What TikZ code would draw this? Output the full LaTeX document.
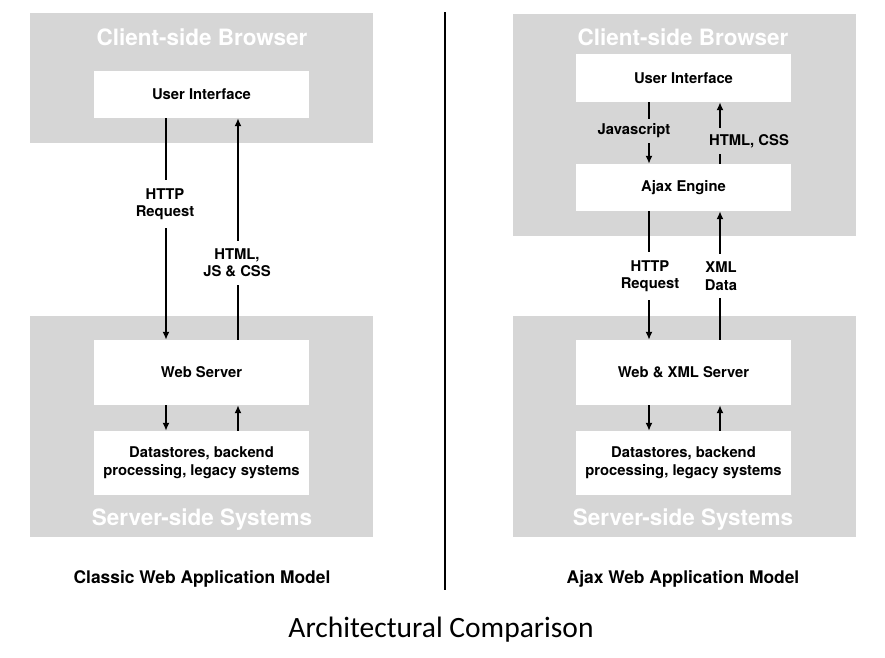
\documentclass[tikz,border=0pt]{standalone}
\usepackage{fontspec}
\setmainfont{TeX Gyre Heros}
\newfontfamily\captionfont{Carlito}
\usetikzlibrary{arrows.meta}
\definecolor{panel}{HTML}{D6D6D6}

\begin{document}
\begin{tikzpicture}[x=1pt, y=-1pt]
\useasboundingbox (0,0) rectangle (885,657);

% grey containers
\begin{scope}[every node/.style={fill=panel, inner sep=0pt, minimum width=343pt}]
    \node[minimum height=130pt] (clientA) at (201.5,78) {};
    \node[minimum height=221pt] (serverA) at (201.5,426.5) {};
    \node[minimum height=222pt] (clientB) at (684.5,125) {};
    \node[minimum height=221pt] (serverB) at (684.5,426.5) {};
\end{scope}

\begin{scope}[every node/.style={text=white, font=\bfseries\fontsize{22.5}{26}\selectfont}]
    \node (clientAtitle) at (202,37) {Client-side Browser};
    \node (clientBtitle) at (683,37) {Client-side Browser};
    \node (serverAtitle) at (202,520) {Server-side Systems};
    \node (serverBtitle) at (683,520) {Server-side Systems};
\end{scope}

% white boxes
\begin{scope}[every node/.style={fill=white, minimum width=215pt, align=center,
              font=\bfseries\fontsize{14.8}{18}\selectfont}]
    \node[minimum height=47pt] (uiA) at (201.5,94.5) {User Interface};
    \node[minimum height=65pt] (webA) at (201.5,372.5) {Web Server};
    \node[minimum height=64pt] (dataA) at (201.5,463) {Datastores, backend\\processing, legacy systems};
    \node[minimum height=48pt] (uiB) at (683.5,78) {User Interface};
    \node[minimum height=47pt] (ajax) at (683.5,187.5) {Ajax Engine};
    \node[minimum height=65pt] (webB) at (683.5,372.5) {Web \& XML Server};
    \node[minimum height=64pt] (dataB) at (683.5,463) {Datastores, backend\\processing, legacy systems};
\end{scope}

% arrows
\begin{scope}[>={Latex[length=8pt, width=7pt]},
              every edge/.style={draw=black, line width=2pt}]
    \path [->] ([xshift=-35.5pt]uiA.south) edge ([xshift=-35.5pt]webA.north);
    \path [->] ([xshift=36.5pt]webA.north) edge ([xshift=36.5pt]uiA.south);
    \path [->] ([xshift=-35.5pt]webA.south) edge ([xshift=-35.5pt]dataA.north);
    \path [->] ([xshift=36.5pt]dataA.north) edge ([xshift=36.5pt]webA.south);
    \path [->] ([xshift=-34.5pt]uiB.south) edge ([xshift=-34.5pt]ajax.north);
    \path [->] ([xshift=36.5pt]ajax.north) edge ([xshift=36.5pt]uiB.south);
    \path [->] ([xshift=-34.5pt]ajax.south) edge ([xshift=-34.5pt]webB.north);
    \path [->] ([xshift=36.5pt]webB.north) edge ([xshift=36.5pt]ajax.south);
    \path [->] ([xshift=-34.5pt]webB.south) edge ([xshift=-34.5pt]dataB.north);
    \path [->] ([xshift=36.5pt]dataB.north) edge ([xshift=36.5pt]webB.south);
\end{scope}

% arrow labels
\begin{scope}[every node/.style={fill=white, align=center, inner xsep=3pt, inner ysep=8pt,
              font=\bfseries\fontsize{14.8}{17.5}\selectfont}]
    \node (reqA) at (165,204) {HTTP\\Request};
    \node (cssA) at (237,263) {HTML,\\JS \& CSS};
    \node[fill=panel, inner ysep=5pt] (jsB) at (634,131) {Javascript};
    \node[fill=panel, inner ysep=6pt] (cssB) at (749,141) {HTML, CSS};
    \node (reqB) at (650,276) {HTTP\\Request};
    \node (xmlB) at (721,276) {XML\\Data};
\end{scope}

% divider and captions
\coordinate (divtop) at (445,12);
\coordinate (divbot) at (445,590);
\draw[line width=2pt] (divtop) -- (divbot);

\node[font=\bfseries\fontsize{17.4}{20}\selectfont] (capA) at (202,579) {Classic Web Application Model};
\node[font=\bfseries\fontsize{17.4}{20}\selectfont] (capB) at (683,579) {Ajax Web Application Model};
\node[font=\captionfont\fontsize{29.5}{34}\selectfont] (title) at (441,630) {Architectural Comparison};
\end{tikzpicture}
\end{document}
